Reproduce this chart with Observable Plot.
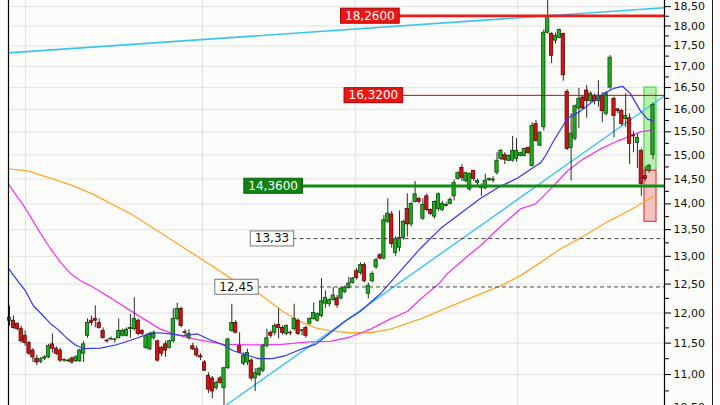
<!DOCTYPE html>
<html><head><meta charset="utf-8">
<script src="https://cdn.jsdelivr.net/npm/d3@7"></script>
<script src="https://cdn.jsdelivr.net/npm/@observablehq/plot@0.6"></script>
<style>
html,body{margin:0;padding:0;background:#fbfcfa;}
#chart{width:720px;height:405px;overflow:hidden;}
</style>
</head><body><div id="chart"></div>
<script>
// ---- candle data (daily OHLC) ----
const opens = [11.87,11.87,11.82,11.73,11.62,11.50,11.38,11.25,11.20,11.25,11.27,11.48,11.41,11.38,11.22,11.21,11.25,11.21,11.21,11.33,
11.62,11.87,11.90,11.83,11.70,11.54,11.56,11.55,11.58,11.62,11.62,11.73,11.73,11.87,11.70,11.42,11.40,11.58,11.53,11.42,
11.48,11.42,11.53,11.90,12.07,11.68,11.58,11.45,11.40,11.29,11.19,10.98,10.94,10.79,10.94,10.79,11.10,11.70,11.83,11.45,
11.17,11.19,11.22,10.94,10.99,11.06,11.45,11.67,11.67,11.80,11.75,11.65,11.67,11.73,11.87,11.70,11.75,11.82,11.90,11.87,
11.95,12.16,12.15,12.22,12.25,12.25,12.36,12.43,12.52,12.73,12.70,12.84,12.33,12.55,12.80,13.02,12.96,13.65,13.79,13.06,
13.16,13.34,13.90,13.60,14.04,14.10,13.71,14.15,13.88,13.75,13.90,13.88,13.96,14.00,14.15,14.50,14.73,14.46,14.29,14.67,
14.42,14.35,14.31,14.48,14.47,14.63,14.92,15.00,14.88,14.88,14.92,14.98,14.98,15.15,14.77,15.67,15.20,15.60,17.83,17.80,
17.63,17.70,17.80,16.40,15.15,15.35,16.02,16.27,16.43,16.19,16.31,16.19,16.31,15.90,16.50,16.24,16.00,15.96,15.78,15.80,
15.42,15.26,15.09,14.56,14.67,15.00];
const highs = [12.12,11.95,11.83,11.78,11.70,11.53,11.41,11.30,11.27,11.30,11.48,11.65,11.44,11.42,11.25,11.24,11.28,11.30,11.40,11.53,
11.90,11.95,12.12,11.90,11.75,11.56,11.60,11.58,11.90,11.73,11.75,11.98,12.26,11.90,11.72,11.65,11.68,11.70,11.55,11.45,
11.53,11.55,12.07,12.17,12.10,11.72,11.72,11.50,11.45,11.33,11.22,11.03,10.97,10.90,10.97,11.11,11.58,12.15,11.87,11.67,
11.34,11.40,11.25,11.09,11.11,11.48,11.73,11.70,11.82,12.07,11.78,11.80,11.70,12.15,11.90,11.72,11.78,11.92,12.17,12.00,
12.60,12.38,12.24,12.44,12.30,12.45,12.47,12.62,12.62,12.78,12.88,12.88,12.52,12.72,12.96,13.05,13.77,14.10,13.85,13.37,
13.86,13.68,14.20,14.03,14.45,14.13,14.10,14.20,13.90,14.06,14.22,14.05,14.02,14.12,14.48,14.65,14.80,14.64,14.63,14.67,
14.50,14.40,14.60,14.52,14.55,15.05,15.12,15.05,15.00,15.40,15.35,15.06,15.15,15.17,15.70,15.75,15.50,17.90,18.66,17.83,
17.82,17.92,17.82,16.45,15.90,16.10,16.48,16.30,16.55,16.40,16.35,16.66,16.38,16.40,17.26,16.28,16.02,16.00,16.36,15.90,
15.50,15.45,15.13,14.75,14.80,16.14];
const lows = [11.78,11.73,11.70,11.50,11.45,11.30,11.19,11.14,11.17,11.22,11.25,11.34,11.30,11.19,11.19,11.19,11.16,11.19,11.19,11.19,
11.58,11.78,11.75,11.73,11.57,11.50,11.54,11.50,11.57,11.60,11.60,11.58,11.70,11.62,11.62,11.40,11.38,11.55,11.20,11.28,
11.27,11.40,11.50,11.87,11.75,11.62,11.55,11.38,11.27,11.22,11.05,10.71,10.63,10.76,10.85,10.52,11.08,11.68,11.65,11.33,
11.14,11.14,10.90,10.74,10.97,11.03,11.42,11.58,11.62,11.57,11.63,11.62,11.62,11.70,11.62,11.62,11.58,11.80,11.88,11.85,
11.92,12.08,12.10,12.20,12.08,12.22,12.33,12.41,12.50,12.57,12.66,12.52,12.24,12.52,12.76,12.93,12.93,13.62,13.15,13.00,
13.08,13.30,13.36,13.55,14.02,14.00,13.68,13.85,13.77,13.70,13.85,13.85,13.94,13.98,14.06,14.48,14.45,14.42,14.25,14.45,
14.35,14.15,14.28,14.45,14.42,14.58,14.88,14.80,14.86,14.85,14.85,14.96,14.96,15.02,14.75,15.28,15.18,15.52,17.80,17.07,
17.55,17.68,16.65,15.10,14.46,15.30,15.57,15.98,15.80,16.15,16.10,16.05,15.70,15.85,16.45,15.37,15.90,15.62,15.60,14.80,
15.05,14.72,14.15,14.45,14.62,14.90];
const closes = [11.92,11.75,11.73,11.53,11.50,11.33,11.27,11.19,11.24,11.27,11.45,11.41,11.33,11.22,11.23,11.22,11.19,11.27,11.38,11.48,
11.83,11.83,11.87,11.75,11.58,11.53,11.57,11.56,11.70,11.70,11.72,11.75,11.90,11.65,11.65,11.62,11.65,11.67,11.22,11.33,
11.38,11.53,11.90,12.07,11.78,11.67,11.65,11.40,11.30,11.27,11.06,10.77,10.74,10.87,10.87,11.10,11.56,11.83,11.67,11.34,
11.30,11.34,10.94,11.02,11.09,11.45,11.58,11.62,11.78,11.75,11.67,11.78,11.66,11.90,11.65,11.71,11.62,11.90,12.00,11.98,
12.20,12.26,12.22,12.30,12.13,12.42,12.43,12.51,12.60,12.61,12.84,12.55,12.47,12.68,12.93,12.96,13.68,13.81,13.23,13.32,
13.34,13.65,13.60,14.00,14.19,14.04,13.98,13.88,13.80,14.04,14.19,14.00,13.98,14.08,14.42,14.62,14.52,14.62,14.60,14.50,
14.46,14.32,14.46,14.50,14.49,14.88,15.09,14.90,14.98,15.09,15.09,15.04,15.13,15.04,15.63,15.30,15.48,17.83,18.26,17.26,
17.75,17.90,16.79,15.13,15.46,16.07,16.24,16.02,16.19,16.36,16.19,16.31,15.96,16.36,17.21,15.85,15.96,15.67,15.85,15.24,
15.40,15.37,14.40,14.50,14.77,16.10];

// ---- indicator lines: [bar index, price] ----
const blueMA = [[-0.26,12.78],[2.05,12.56],[4.1,12.38],[6.15,12.12],[7.95,12.0],[10.5,11.82],[12.3,11.73],[14.9,11.57],[16.9,11.47],[19.0,11.41],[23.3,11.42],[27.2,11.47],[30.3,11.53],[34.4,11.62],[37.9,11.67],[41.3,11.65],[44.6,11.62],[48.2,11.65],[51.5,11.55],[54.9,11.47],[57.2,11.38],[61.3,11.30],[63.8,11.25],[67.4,11.25],[70.8,11.30],[75.1,11.41],[78.5,11.48],[82.3,11.67],[86.2,11.87],[90.0,12.03],[95.1,12.33],[100.3,12.74],[105.4,13.15],[110.5,13.52],[115.6,13.81],[120.8,14.11],[125.1,14.32],[130.3,14.52],[134.9,14.77],[136.2,14.84],[137.4,14.98],[139.5,15.30],[143.1,15.80],[146.4,15.96],[149.7,16.19],[152.3,16.36],[154.9,16.48],[157.2,16.53],[159.2,16.36],[161.8,15.96],[163.6,15.78],[165.1,15.74]];
const magentaMA = [[-0.26,14.40],[1.54,14.19],[3.33,14.00],[5.38,13.75],[7.95,13.43],[10.5,13.14],[13.1,12.89],[15.6,12.69],[18.2,12.56],[20.8,12.47],[25.9,12.26],[30.3,12.07],[34.4,11.90],[38.7,11.73],[43.1,11.63],[47.2,11.57],[51.5,11.52],[54.9,11.48],[61.3,11.47],[70.0,11.48],[76.7,11.52],[82.3,11.53],[87.4,11.60],[92.6,11.73],[97.7,11.90],[102.1,12.03],[105.4,12.24],[110.0,12.50],[112.3,12.69],[117.4,13.00],[120.8,13.20],[125.9,13.56],[131.0,13.90],[134.9,14.00],[139.5,14.36],[143.1,14.67],[147.2,14.92],[151.5,15.13],[155.9,15.30],[159.2,15.41],[161.8,15.50],[165.1,15.54]];
const orangeMA = [[-0.26,14.71],[4.6,14.67],[10.5,14.52],[16.4,14.36],[21.5,14.19],[25.1,14.04],[31.0,13.81],[36.2,13.56],[43.8,13.20],[49.0,12.96],[54.6,12.70],[59.2,12.50],[63.1,12.38],[70.0,12.03],[74.1,11.87],[78.5,11.75],[82.3,11.70],[87.4,11.67],[92.6,11.67],[97.7,11.73],[105.4,11.90],[112.3,12.09],[120.8,12.33],[125.9,12.47],[131.0,12.65],[136.2,12.89],[141.3,13.14],[146.4,13.34],[153.3,13.65],[159.2,13.88],[165.1,14.15]];
const upperTrend = [[-0.26,17.33],[167.95,18.47]];
const lowerTrend = [[55.4,10.53],[167.95,16.31]];

// ---- horizontal levels ----
const levelValues = [18.26, 16.32, 14.36, 13.33, 12.45];
const levelLabels = ["18,2600", "16,3200", "14,3600", "13,33", "12,45"];
const levelLabelAt = [92.4, 93.3, 67.6, 67.3, 58.2];

// ---- highlighted zones on the last bars ----
const zoneBars = [162.8, 165.9];
const greenZone = [14.67, 16.50];
const redZone = [13.65, 14.67];

// ---- axes ----
const yTicks = [10.5,11,11.5,12,12.5,13,13.5,14,14.5,15,15.5,16,16.5,17,17.5,18,18.5];
const yMinor = [10.75,11.25,11.75,12.25,12.75,13.25,13.75,14.25,14.75,15.25,15.75,16.25,16.75,17.25,17.75,18.25];
const monthGrid = [4.1, 49.5, 88.7, 130.3];
const xDomain = [-0.26, 167.95];
const yDomain = [10.53, 18.66];

// styling
const levelStroke = ["#e81c1c", "#d00000", "#158a15", "#444", "#444"];
const levelWidth = [2.6, 1, 3, 1, 1];
const levelDash = [null, null, null, "4,3", "4,3"];
const boxFill = ["#f01414", "#f01414", "#138213", "#ffffff", "#ffffff"];
const boxStroke = ["#a00000", "#a00000", "#0b5a0b", "#777", "#777"];
const textFill = ["#ffffff", "#ffffff", "#ffffff", "#111111", "#111111"];

const candles = opens.map((o, i) => ({i, open: o, high: highs[i], low: lows[i], close: closes[i]}));
const fmt = v => v.toFixed(2).replace(".", ",");

const svg = Plot.plot({
  width: 720, height: 405,
  marginLeft: 8, marginRight: 56, marginTop: 0, marginBottom: 0,
  x: {type: "linear", domain: xDomain, axis: null},
  y: {type: "log", domain: yDomain, axis: null},
  style: {background: "transparent", fontFamily: "'DejaVu Sans', sans-serif", fontSize: "11px", color: "#111", overflow: "visible"},
  marks: [
    Plot.gridY(yTicks.filter(t => t >= 11), {stroke: "#e3e3e3", strokeOpacity: 1}),
    Plot.gridX(monthGrid, {stroke: "#e3e3e3", strokeOpacity: 1}),
    Plot.rect([0], {x1: zoneBars[0], x2: zoneBars[1], y1: greenZone[0], y2: greenZone[1], fill: "#b9f0b0", stroke: "#3fe03f", strokeWidth: 1.2}),
    Plot.rect([0], {x1: zoneBars[0], x2: zoneBars[1], y1: redZone[0], y2: redZone[1], fill: "#f5c2c2", stroke: "#f03c3c", strokeWidth: 1.2}),
    Plot.line(orangeMA, {stroke: "#ffa830", strokeWidth: 1.3}),
    Plot.line(magentaMA, {stroke: "#f03cf0", strokeWidth: 1.3}),
    Plot.line(upperTrend, {stroke: "#3cc4f0", strokeWidth: 1.6}),
    Plot.line(lowerTrend, {stroke: "#3cc4f0", strokeWidth: 1.4}),
    Plot.ruleX(candles, {x: "i", y1: "low", y2: "high", stroke: "#2a2a2a", strokeWidth: 1}),
    Plot.rect(candles, {x1: d => d.i - 0.42, x2: d => d.i + 0.42, y1: "open", y2: "close",
      fill: d => d.close >= d.open ? "#1fae1f" : "#d41414",
      stroke: d => d.close >= d.open ? "#0c4a0c" : "#5a0808", strokeWidth: 0.8}),
    Plot.line(blueMA, {stroke: "#3535f5", strokeWidth: 1.2}),
    ...levelValues.map((v, k) => Plot.ruleY([v], {x1: levelLabelAt[k], x2: xDomain[1], stroke: levelStroke[k], strokeWidth: levelWidth[k], strokeDasharray: levelDash[k]})),
    Plot.ruleX([xDomain[0], xDomain[1]], {stroke: "#000", strokeWidth: 1.2}),
    Plot.axisY(yTicks, {anchor: "right", tickSize: 6, tickPadding: 3, tickFormat: fmt, fontSize: 11, stroke: "#000"}),
    Plot.axisY(yMinor, {anchor: "right", tickSize: 4, tickFormat: () => "", stroke: "#000"}),
    Plot.text(d3.range(levelValues.length), {x: k => levelLabelAt[k], y: k => levelValues[k], text: k => levelLabels[k], fill: k => textFill[k], fontSize: 12})
  ]
});
document.getElementById("chart").append(svg);

// boxes behind the level labels
const ns = "http://www.w3.org/2000/svg";
svg.querySelectorAll('g[aria-label="text"] text').forEach((t, k) => {
  const b = t.getBBox();
  const r = document.createElementNS(ns, "rect");
  r.setAttribute("x", b.x - 4.5);
  r.setAttribute("y", b.y - 0.5);
  r.setAttribute("width", b.width + 9);
  r.setAttribute("height", b.height + 1);
  r.setAttribute("fill", boxFill[k]);
  r.setAttribute("stroke", boxStroke[k]);
  r.setAttribute("stroke-width", 1);
  if (t.getAttribute("transform")) r.setAttribute("transform", t.getAttribute("transform"));
  t.parentNode.insertBefore(r, t);
});
// outer right border of the chart
const border = document.createElementNS(ns, "line");
border.setAttribute("x1", 712.5); border.setAttribute("x2", 712.5);
border.setAttribute("y1", 0); border.setAttribute("y2", 405);
border.setAttribute("stroke", "#222");
svg.append(border);
</script>
</body></html>
